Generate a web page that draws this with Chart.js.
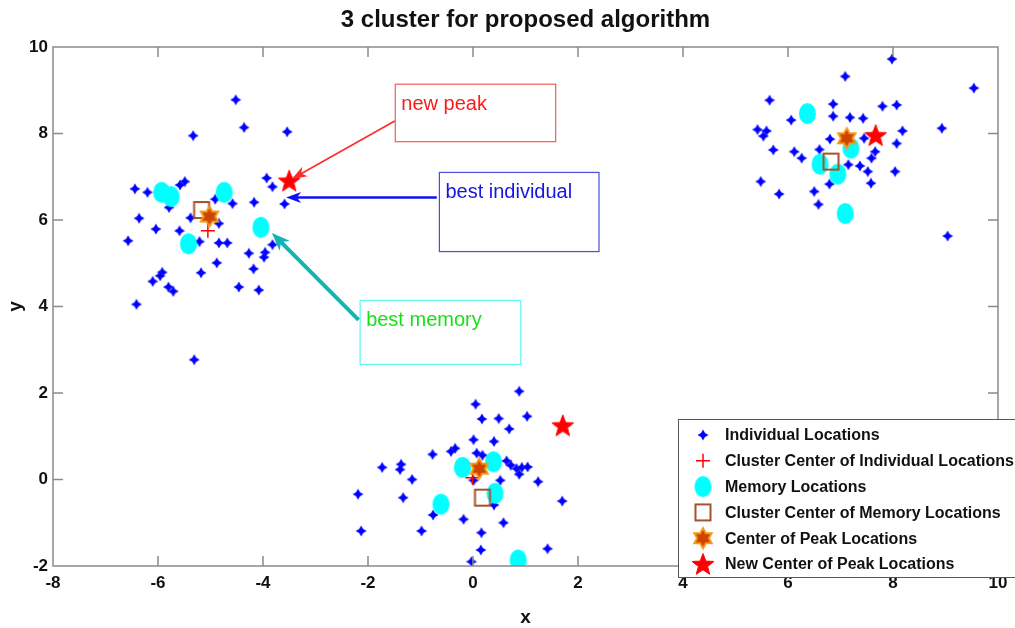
<!DOCTYPE html>
<html>
<head>
<meta charset="utf-8">
<title>3 cluster for proposed algorithm</title>
<script src="https://cdn.jsdelivr.net/npm/chart.js@4.4.1/dist/chart.umd.min.js"></script>
<style>
  html, body { margin: 0; padding: 0; background: #fff; }
  #wrap { width: 1015px; height: 628px; position: relative; }
</style>
</head>
<body>
<div id="wrap"><canvas id="canvas"></canvas></div>
<script>
// individuals of the three swarms (left, upper right, bottom)
const individualX = [
  -4.52, -4.36, -5.33, -3.54, -3.93, -3.82, -3.59, -6.44, -6.2, -5.58, -5.49, -5.79, -4.91, -4.58,
  -4.17, -6.36, -5.38, -4.84, -6.04, -5.59, -6.57, -5.21, -4.84, -4.68, -4.27, -3.96, -3.98, -3.82,
  -4.88, -4.18, -5.92, -5.96, -6.1, -5.8, -5.71, -5.18, -4.46, -4.08, -6.41, -5.31,
  7.98, 7.09, 9.54, 5.65, 6.86, 7.8, 8.07, 6.86, 7.18, 7.43, 6.06, 5.42, 5.59, 5.53, 8.93, 8.18,
  6.8, 7.45, 8.07, 5.72, 6.12, 6.6, 6.26, 7.66, 7.59, 7.15, 7.37, 7.52, 8.04, 5.48, 6.79, 7.58,
  5.83, 6.5, 6.58, 9.04,
  0.88, 0.05, 0.17, 0.49, 1.03, 0.69, 0.01, 0.4, -0.77, -0.42, -0.34, 0.07, 0.18, 0.64, 0.72,
  0.83, 0.93, 1.04, 0.88, -1.73, -1.37, -1.39, -1.16, 0.01, 0.52, 1.24, -2.19, -1.33, 1.7, 0.4,
  -0.76, -0.18, 0.58, -0.98, -2.13, 0.16, 0.15, 1.42, -0.03
];
const individualY = [
  8.78, 8.14, 7.95, 8.04, 6.97, 6.77, 6.37, 6.72, 6.64, 6.81, 6.89, 6.29, 6.48, 6.38,
  6.41, 6.04, 6.05, 5.92, 5.79, 5.75, 5.52, 5.5, 5.47, 5.47, 5.23, 5.25, 5.14, 5.43,
  5.01, 4.87, 4.79, 4.71, 4.58, 4.45, 4.35, 4.78, 4.45, 4.38, 4.05, 2.77,
  9.72, 9.32, 9.05, 8.77, 8.68, 8.63, 8.66, 8.4, 8.37, 8.35, 8.31, 8.09, 8.06, 7.94, 8.12, 8.06,
  7.87, 7.89, 7.77, 7.62, 7.58, 7.63, 7.43, 7.58, 7.43, 7.28, 7.25, 7.12, 7.12, 6.89, 6.83, 6.85,
  6.6, 6.66, 6.36, 5.63,
  2.04, 1.74, 1.4, 1.41, 1.46, 1.17, 0.92, 0.88, 0.58, 0.65, 0.72, 0.61, 0.56, 0.43, 0.33,
  0.25, 0.28, 0.29, 0.12, 0.28, 0.35, 0.23, 0.0, -0.02, -0.02, -0.05, -0.34, -0.42, -0.5, -0.59,
  -0.82, -0.92, -1.0, -1.19, -1.19, -1.23, -1.63, -1.6, -1.9
];
const clusterCenterX = [-5.05, 7.12, -0.01];
const clusterCenterY = [5.75, 7.85, 0.04];
const memoryX = [-5.93, -5.75, -4.74, -5.42, -4.04, 6.37, 7.2, 6.61, 6.95, 7.09, -0.2, 0.39, 0.42, -0.61, 0.86];
const memoryY = [6.64, 6.54, 6.64, 5.45, 5.83, 8.46, 7.66, 7.29, 7.06, 6.15, 0.28, 0.41, -0.32, -0.57, -1.86];
const memoryCenterX = [-5.17, 6.82, 0.18];
const memoryCenterY = [6.23, 7.35, -0.42];
const peakCenterX = [-5.02, 7.12, 0.12];
const peakCenterY = [6.08, 7.89, 0.25];
const newPeakX = [-3.5, 7.67, 1.71];
const newPeakY = [6.91, 7.96, 1.25];

const seriesNames = [
  'Individual Locations',
  'Cluster Center of Individual Locations',
  'Memory Locations',
  'Cluster Center of Memory Locations',
  'Center of Peak Locations',
  'New Center of Peak Locations'
];

const xTicks = [-8, -6, -4, -2, 0, 2, 4, 6, 8, 10];
const yTicks = [-2, 0, 2, 4, 6, 8, 10];

// text boxes with arrows, in axis units
const noteText = ['new peak', 'best individual', 'best memory'];
const noteLeft = [-1.48, -0.64, -2.15];
const noteRight = [1.575, 2.4, 0.91];
const noteTop = [9.14, 7.1, 4.14];
const noteBottom = [7.81, 5.27, 2.66];
const arrowFromX = [-1.49, -0.69, -2.18];
const arrowFromY = [8.29, 6.52, 3.69];
const arrowToX = [-3.45, -3.56, -3.83];
const arrowToY = [6.95, 6.52, 5.7];

const FONT = "'Liberation Sans Narrow', 'Liberation Sans', Arial, sans-serif";

function pts(xs, ys) {
  return xs.map((x, i) => ({ x: x, y: ys[i] }));
}

function markerCanvas(w, h, draw) {
  const c = document.createElement('canvas');
  c.width = w;
  c.height = h;
  draw(c.getContext('2d'), w / 2, h / 2);
  return c;
}

function starPath(ctx, cx, cy, n, rOut, rIn) {
  ctx.beginPath();
  for (let k = 0; k < 2 * n; k++) {
    const r = k % 2 ? rIn : rOut;
    const a = -Math.PI / 2 + k * Math.PI / n;
    ctx.lineTo(cx + r * Math.cos(a), cy + r * Math.sin(a));
  }
  ctx.closePath();
}

const dotMark = markerCanvas(12, 12, (ctx, cx, cy) => {
  starPath(ctx, cx, cy, 4, 5.2, 2.7);
  ctx.fillStyle = '#0000ff';
  ctx.fill();
  ctx.strokeStyle = 'rgba(60,60,255,0.5)';
  ctx.lineWidth = 0.8;
  ctx.stroke();
});
const memMark = markerCanvas(19, 23, (ctx, cx, cy) => {
  ctx.beginPath();
  ctx.ellipse(cx, cy, 8.5, 10.5, 0, 0, Math.PI * 2);
  ctx.fillStyle = '#00ffff';
  ctx.fill();
});
const squareMark = markerCanvas(20, 20, (ctx, cx, cy) => {
  ctx.strokeStyle = '#a5522a';
  ctx.lineWidth = 2;
  ctx.strokeRect(cx - 7.5, cy - 8, 15, 16);
});
const hexMark = markerCanvas(26, 26, (ctx, cx, cy) => {
  starPath(ctx, cx, cy, 6, 10, 5.8);
  ctx.fillStyle = '#d04400';
  ctx.fill();
  ctx.strokeStyle = '#f09a18';
  ctx.lineWidth = 2;
  ctx.stroke();
});
const starMark = markerCanvas(28, 28, (ctx, cx, cy) => {
  starPath(ctx, cx, cy + 1, 5, 11.5, 4.8);
  ctx.fillStyle = '#ff0000';
  ctx.fill();
  ctx.strokeStyle = '#ff0000';
  ctx.lineWidth = 1;
  ctx.stroke();
});

const datasets = [
  { label: seriesNames[0], data: pts(individualX, individualY), pointStyle: dotMark },
  { label: seriesNames[1], data: pts(clusterCenterX, clusterCenterY), pointStyle: 'cross',
    pointRadius: 7, pointBorderWidth: 1.5, borderColor: '#ff0000', pointBorderColor: '#ff0000' },
  { label: seriesNames[2], data: pts(memoryX, memoryY), pointStyle: memMark },
  { label: seriesNames[3], data: pts(memoryCenterX, memoryCenterY), pointStyle: squareMark },
  { label: seriesNames[4], data: pts(peakCenterX, peakCenterY), pointStyle: hexMark },
  { label: seriesNames[5], data: pts(newPeakX, newPeakY), pointStyle: starMark }
].map((d, i) => Object.assign({ order: 6 - i, showLine: false, pointRadius: 6, pointHoverRadius: 6 }, d));

function drawArrow(ctx, x0, y0, x1, y1, color, width, headLen, headW) {
  const ang = Math.atan2(y1 - y0, x1 - x0);
  ctx.save();
  ctx.strokeStyle = color;
  ctx.fillStyle = color;
  ctx.lineWidth = width;
  ctx.beginPath();
  ctx.moveTo(x0, y0);
  ctx.lineTo(x1 - Math.cos(ang) * headLen * 0.7, y1 - Math.sin(ang) * headLen * 0.7);
  ctx.stroke();
  ctx.translate(x1, y1);
  ctx.rotate(ang);
  ctx.beginPath();
  ctx.moveTo(0, 0);
  ctx.lineTo(-headLen, -headW / 2);
  ctx.lineTo(-headLen * 0.72, 0);
  ctx.lineTo(-headLen, headW / 2);
  ctx.closePath();
  ctx.fill();
  ctx.restore();
}

const boxColors = ['#f25a5a', '#4b4bdc', '#5ff5f5'];
const textColors = ['#ff1a1a', '#1515e0', '#18e018'];
const arrowColors = ['#ff2a2a', '#1010f0', '#12b4b4'];
const arrowWidths = [1.6, 2.6, 4];

const decorPlugin = {
  id: 'decor',
  afterDatasetsDraw(chart) {
    const { ctx, chartArea: a, scales } = chart;
    ctx.save();
    // axes box with inward ticks
    ctx.strokeStyle = '#8a8a8a';
    ctx.lineWidth = 1.5;
    ctx.strokeRect(a.left, a.top, a.right - a.left, a.bottom - a.top);
    ctx.beginPath();
    xTicks.slice(1, -1).forEach(v => {
      const px = scales.x.getPixelForValue(v);
      ctx.moveTo(px, a.bottom); ctx.lineTo(px, a.bottom - 10);
      ctx.moveTo(px, a.top); ctx.lineTo(px, a.top + 10);
    });
    yTicks.slice(1, -1).forEach(v => {
      const py = scales.y.getPixelForValue(v);
      ctx.moveTo(a.left, py); ctx.lineTo(a.left + 10, py);
      ctx.moveTo(a.right, py); ctx.lineTo(a.right - 10, py);
    });
    ctx.stroke();

    // text boxes and arrows
    noteText.forEach((t, i) => {
      const l = scales.x.getPixelForValue(noteLeft[i]);
      const r = scales.x.getPixelForValue(noteRight[i]);
      const tp = scales.y.getPixelForValue(noteTop[i]);
      const b = scales.y.getPixelForValue(noteBottom[i]);
      ctx.fillStyle = '#ffffff';
      ctx.fillRect(l, tp, r - l, b - tp);
      ctx.strokeStyle = boxColors[i];
      ctx.lineWidth = 1.2;
      ctx.strokeRect(l, tp, r - l, b - tp);
      ctx.fillStyle = textColors[i];
      ctx.font = '20px ' + FONT;
      ctx.textAlign = 'left';
      ctx.textBaseline = 'middle';
      ctx.fillText(t, l + 6, tp + 20);
      drawArrow(ctx,
        scales.x.getPixelForValue(arrowFromX[i]), scales.y.getPixelForValue(arrowFromY[i]),
        scales.x.getPixelForValue(arrowToX[i]), scales.y.getPixelForValue(arrowToY[i]),
        arrowColors[i], arrowWidths[i], i === 2 ? 18 : 15, i === 2 ? 14 : 11);
    });
    ctx.restore();
  },
  afterDraw(chart) {
    // legend box in the lower right corner
    const { ctx, chartArea: a } = chart;
    const left = a.left + 625, top = a.bottom - 147, rowH = 25.8;
    ctx.save();
    ctx.fillStyle = '#ffffff';
    ctx.fillRect(left, top, 400, 159);
    ctx.strokeStyle = '#555';
    ctx.lineWidth = 1;
    ctx.strokeRect(left + 0.5, top + 0.5, 400, 158);
    chart.data.datasets.forEach((ds, i) => {
      const y = top + 16 + i * rowH;
      ctx.strokeStyle = ds.pointBorderColor || '#000';
      ctx.fillStyle = ds.pointBorderColor || '#000';
      ctx.lineWidth = ds.pointBorderWidth || 1;
      Chart.helpers.drawPoint(ctx, { pointStyle: ds.pointStyle, radius: ds.pointRadius, rotation: 0, borderWidth: ds.pointBorderWidth || 1 }, left + 25, y);
      ctx.fillStyle = '#111';
      ctx.font = 'bold 16px ' + FONT;
      ctx.textAlign = 'left';
      ctx.textBaseline = 'middle';
      ctx.fillText(ds.label, left + 47, y + 1);
    });
    ctx.restore();
  }
};

const tickFont = { family: FONT, size: 17, weight: 'bold' };

new Chart(document.getElementById('canvas'), {
  type: 'scatter',
  data: { datasets: datasets },
  options: {
    responsive: true,
    maintainAspectRatio: false,
    animation: false,
    layout: { padding: { left: 0, right: 17, top: 0, bottom: 0 } },
    plugins: {
      legend: { display: false },
      tooltip: { enabled: false },
      title: {
        display: true,
        fullSize: false,
        text: '3 cluster for proposed algorithm',
        color: '#111',
        font: { family: FONT, size: 24, weight: 'bold', lineHeight: 1 },
        padding: { top: 8, bottom: 15 }
      }
    },
    scales: {
      x: {
        type: 'linear',
        min: -8, max: 10,
        afterFit: s => { s.height = 62; },
        afterBuildTicks: s => { s.ticks = xTicks.map(v => ({ value: v })); },
        grid: { display: false, drawTicks: false },
        border: { display: false },
        ticks: { color: '#111', font: tickFont, padding: 7, maxRotation: 0 },
        title: { display: true, text: 'x', color: '#111', font: { family: FONT, size: 19, weight: 'bold', lineHeight: 1 }, padding: { top: 0, bottom: 1 } }
      },
      y: {
        type: 'linear',
        min: -2, max: 10,
        afterFit: s => { s.width = 53; },
        afterBuildTicks: s => { s.ticks = yTicks.map(v => ({ value: v })); },
        grid: { display: false, drawTicks: false },
        border: { display: false },
        ticks: { color: '#111', font: tickFont, padding: 5 },
        title: { display: true, text: 'y', color: '#111', font: { family: FONT, size: 19, weight: 'bold', lineHeight: 1.2 }, padding: { top: 4, bottom: 0 } }
      }
    }
  },
  plugins: [decorPlugin]
});
</script>
</body>
</html>
